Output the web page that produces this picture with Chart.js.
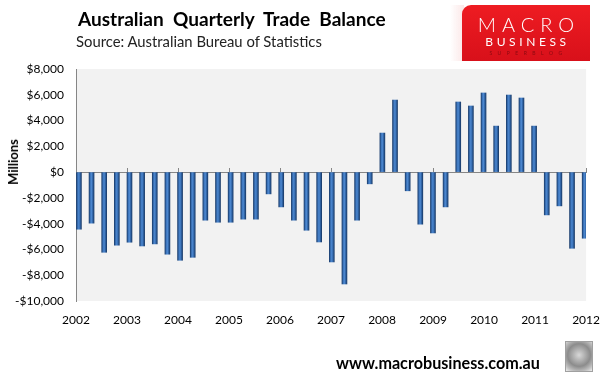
<!DOCTYPE html>
<html>
<head>
<meta charset="utf-8">
<script src="https://cdn.jsdelivr.net/npm/chart.js@4/dist/chart.umd.min.js"></script>
<style>
  html, body { margin: 0; padding: 0; background: #fff; }
  body { width: 612px; height: 380px; position: relative; overflow: hidden; font-family: Lato, "Open Sans", sans-serif; }
  #chart { position: absolute; left: 0; top: 0; }
  .txt { position: absolute; white-space: pre; color: #000; }
  #title { left: 78px; top: 9px; font-size: 19px; line-height: 20px; font-weight: 700; }
  #source { left: 76px; top: 33px; font-size: 14.5px; line-height: 16px; color: #222; }
  #ylab { left: 13px; top: 162px; font-size: 13px; font-weight: 700; transform: translate(-50%, -50%) rotate(-90deg); }
  #footer { left: 336px; top: 355px; font-size: 16px; line-height: 16px; font-weight: 700; }
  #logo-fade { position: absolute; left: 450px; top: 5px; width: 14px; height: 56px; background: linear-gradient(to right, rgba(255,255,255,0), rgba(250,225,225,0.8)); }
  #logo { position: absolute; left: 462px; top: 5px; width: 128px; height: 56px; border-top-left-radius: 9px; background: linear-gradient(to bottom, #ee1c22, #d8101a); color: #fff; text-align: center; }
  #logo .l1 { position: absolute; left: 0; right: 0; top: 8px; font-size: 20px; line-height: 22px; font-weight: 300; letter-spacing: 6px; padding-left: 6px; }
  #logo .l2 { position: absolute; left: 0; right: 0; top: 30px; font-size: 12px; line-height: 14px; letter-spacing: 3.6px; padding-left: 3px; }
  #logo .l3 { position: absolute; left: 0; right: 0; top: 45px; font-size: 5px; line-height: 6px; letter-spacing: 5.5px; padding-left: 5px; color: #8a0a10; }
  #wolf { position: absolute; left: 565px; top: 341px; width: 26px; height: 29px; border: 1px solid #a0a0a0; background: radial-gradient(circle at 50% 45%, #d8d8d8, #8c8c8c 55%, #bdbdbd 80%, #eeeeee); }
</style>
</head>
<body>
<canvas id="chart" width="612" height="380"></canvas>
<div class="txt" id="title">Australian  Quarterly  Trade  Balance</div>
<div class="txt" id="source">Source: Australian Bureau of Statistics</div>
<div class="txt" id="ylab">Millions</div>
<div class="txt" id="footer">www.macrobusiness.com.au</div>
<div id="logo-fade"></div>
<div id="logo"><div class="l1">MACRO</div><div class="l2">BUSINESS</div><div class="l3">SUPERBLOG</div></div>
<div id="wolf"></div>
<script>
// Year labels along the bottom axis
const yearLabels = ['2002', '2003', '2004', '2005', '2006', '2007', '2008', '2009', '2010', '2011', '2012'];

// Y axis ticks ($ millions)
const yTickValues = [8000, 6000, 4000, 2000, 0, -2000, -4000, -6000, -8000, -10000];

// Quarterly trade balance, $ millions (Q1 2002 .. Q1 2012)
const tradeBalance = [
    -4430, -3960, -6220, -5670,
    -5440, -5730, -5570, -6370,
    -6840, -6610, -3730, -3890,
    -3890, -3650, -3650, -1690,
    -2700, -3730, -4510, -5420,
    -6970, -8680, -3730, -910,
    3030, 5590, -1450, -4040,
    -4720, -2700, 5440, 5130,
    6140, 3570, 5980, 5750,
    3570, -3320, -2620, -5910,
    -5130
];

const AXIS_GREY = '#868686';
const FONT = 'Lato, "Open Sans", sans-serif';

// Stretch the header/footer texts to the widths they have in the original
[['title', 308], ['source', 246], ['footer', 204]].forEach(([id, target]) => {
    const el = document.getElementById(id);
    const size = parseFloat(getComputedStyle(el).fontSize);
    const w = el.getBoundingClientRect().width;
    if (w > 0) {
        el.style.fontSize = (size * target / w).toFixed(2) + 'px';
    }
});

// Cylinder-ish shading across each bar
function barFill(context) {
    const chart = context.chart;
    const xs = chart.scales.x;
    if (!xs || !context.parsed) {
        return '#2f5f9e';
    }
    const cx = xs.getPixelForValue(context.parsed.x);
    if (!isFinite(cx)) {
        return '#2f5f9e';
    }
    const g = chart.ctx.createLinearGradient(cx - 2.5, 0, cx + 2.5, 0);
    g.addColorStop(0, '#1b3f70');
    g.addColorStop(0.3, '#3f78bf');
    g.addColorStop(0.5, '#4c87cf');
    g.addColorStop(0.75, '#2f62a3');
    g.addColorStop(1, '#1a3c6a');
    return g;
}

// Light grey plot area
const plotBackground = {
    id: 'plotBackground',
    beforeDraw(chart) {
        const { ctx, chartArea: a } = chart;
        ctx.save();
        ctx.fillStyle = '#f2f2f2';
        ctx.fillRect(a.left, a.top, a.right - a.left, a.bottom - a.top);
        ctx.restore();
    }
};

const ctx = document.getElementById('chart').getContext('2d');
new Chart(ctx, {
    type: 'bar',
    data: {
        datasets: [{
            label: 'Trade balance',
            data: tradeBalance.map((v, i) => ({ x: i, y: v })),
            backgroundColor: barFill,
            borderWidth: 0,
            barThickness: 5
        }]
    },
    options: {
        responsive: false,
        animation: false,
        layout: { padding: { top: 69, right: 20, left: 0, bottom: 0 } },
        plugins: {
            legend: { display: false },
            tooltip: { enabled: false }
        },
        scales: {
            x: {
                type: 'linear',
                offset: false,
                min: -0.23,
                max: 40.11,
                display: false
            },
            xYears: {
                type: 'linear',
                axis: 'x',
                position: 'bottom',
                offset: false,
                min: 2002,
                max: 2012,
                grid: { display: false, drawTicks: false, offset: false },
                border: { display: false },
                ticks: {
                    stepSize: 1,
                    autoSkip: false,
                    maxRotation: 0,
                    padding: 12,
                    color: '#000',
                    font: { family: FONT, size: 12 },
                    callback: (v, i) => yearLabels[i]
                },
                afterFit: (scale) => { scale.height = 79; }
            },
            xZero: {
                type: 'linear',
                axis: 'x',
                position: { y: 0 },
                offset: false,
                min: 2002,
                max: 2012,
                grid: {
                    offset: false,
                    drawOnChartArea: false,
                    drawTicks: true,
                    tickLength: -5,
                    color: AXIS_GREY
                },
                border: { color: AXIS_GREY, width: 1 },
                ticks: { display: false, stepSize: 1 }
            },
            y: {
                min: -10000,
                max: 8000,
                afterBuildTicks: (scale) => {
                    scale.ticks = yTickValues.map(v => ({ value: v }));
                },
                grid: { drawOnChartArea: false, drawTicks: false },
                border: { color: AXIS_GREY, width: 1 },
                ticks: {
                    padding: 12,
                    color: '#000',
                    font: { family: FONT, size: 12 },
                    callback: (v) => (v < 0 ? '-$' : '$') + Math.abs(v).toLocaleString('en-US')
                },
                afterFit: (scale) => { scale.width = 76; }
            }
        }
    },
    plugins: [plotBackground]
});
</script>
</body>
</html>
